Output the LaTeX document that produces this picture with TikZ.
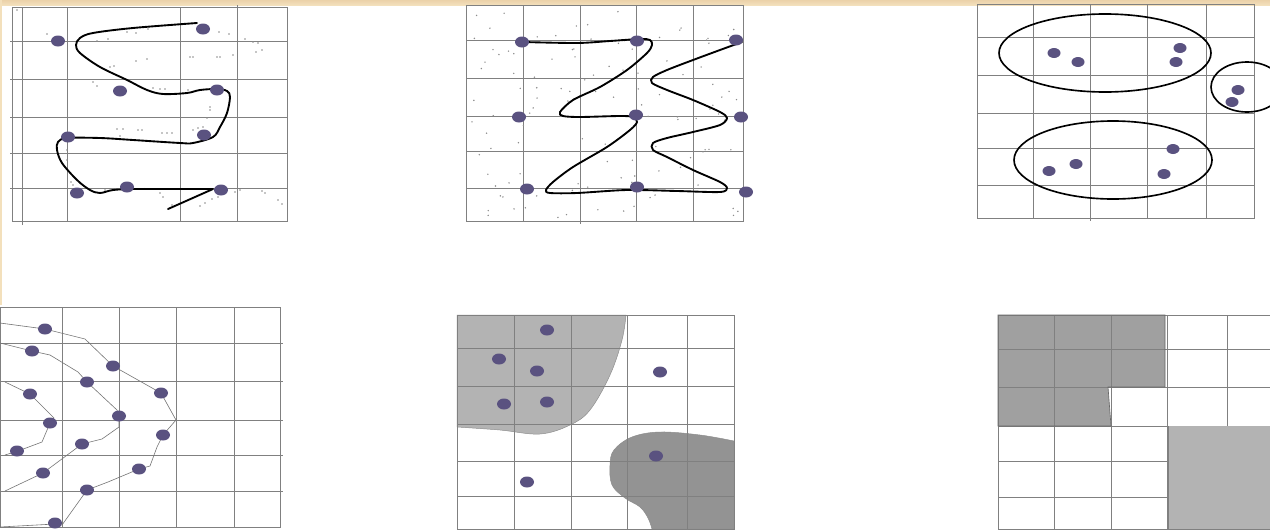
\documentclass[tikz,border=0pt]{standalone}
\usepackage{tikz}
\usetikzlibrary{positioning}
\definecolor{blobcol}{RGB}{90,82,128}
\definecolor{gridcol}{RGB}{128,128,128}
\definecolor{paper}{RGB}{243,224,188}
\definecolor{lightreg}{RGB}{179,179,179}
\definecolor{darkreg}{RGB}{147,147,147}
\definecolor{stepreg}{RGB}{160,160,160}

\begin{document}
\begin{tikzpicture}[
  x=0.03cm, y=-0.03cm,
  gridline/.style={draw=gridcol, line width=0.55pt},
  blob/.style={fill=blobcol},
  speck/.style={fill=black!45},
  sweep/.style={draw=black, line width=1.6pt, line join=round, line cap=round},
  cluster/.style={draw=black, line width=1.4pt},
  contour/.style={draw=black!55, line width=0.5pt},
  region/.style={draw=black!45, line width=0.4pt},
]
\clip (0,0) rectangle (1270,530);
\fill[white] (0,0) rectangle (1270,530);

% parchment edge
\shade[top color=paper!85!brown, bottom color=paper] (0,0) rectangle (1270,5);
\fill[paper] (0,0) rectangle (2,305);

% Panel 1: serpentine sweep
\draw[gridline] (12,7) rectangle (287,221);
\foreach \x in {67,180} \draw[gridline] (\x,7) -- (\x,221);
\draw[gridline] (22,7) -- (22,225);
\draw[gridline] (237,5) -- (237,221);
\foreach \y in {41,79,117,153,188} \draw[gridline] (10,\y) -- (287,\y);
\foreach \p in {(17,10),(47,34),(97,41),(108,39),(127,32),(136,33),(148,29),(219,32),(229,34),
  (245,39),(253,42),(258,43),(256,52),(262,50),(190,57),(193,57),(217,57),(220,57),(233,55),
  (110,67),(114,66),(136,61),(147,59),(93,82),(97,86),(153,88),(160,89),(165,89),(188,90),
  (210,107),(210,110),(207,118),(203,127),(198,128),(193,130),(117,129),(123,129),(138,130),
  (142,130),(162,133),(167,133),(172,133),(120,136),(67,150),(67,160),(71,182),(73,185),
  (105,190),(160,193),(163,197),(172,205),(200,206),(205,203),(212,199),(218,197),(235,192),
  (240,190),(262,191),(265,193),(278,200),(282,204)}
  \fill[speck] \p circle (0.8);
\draw[sweep] plot[smooth, tension=0.55] coordinates {(197,23) (133,28) (93,33) (80,38) (76,45)
  (80,53) (100,67) (127,80) (147,90) (163,94) (187,93) (200,90) (217,89) (227,91) (230,97)
  (227,113) (220,127) (213,137) (193,143) (180,143) (133,140) (100,138) (67,138) (58,142)
  (57,150) (62,163) (77,180) (90,190) (100,193) (113,190) (133,189) (167,189) (213,189)}
  -- (168,209);
\foreach \p in {(58,41),(203,29),(120,91),(217,90),(68,137),(204,135),(77,193),(127,187),(221,190)}
  \fill[blob] \p ellipse [x radius=7, y radius=5.5];

% Panel 2: zig-zag sweep
\draw[gridline] (466,5) rectangle (743,221);
\foreach \x in {523,636,693} \draw[gridline] (\x,5) -- (\x,221);
\draw[gridline] (580,5) -- (580,224);
\foreach \y in {40,78,116,151,188} \draw[gridline] (466,\y) -- (743,\y);
\pgfmathsetseed{42}
\foreach \i in {1,...,120} {
  \pgfmathsetmacro\sx{470+268*rnd}
  \pgfmathsetmacro\sy{8+210*rnd}
  \fill[speck] (\sx,\sy) circle (0.8);
}
\draw[sweep] plot[smooth, tension=0.5] coordinates {(523,42) (577,43) (610,41) (640,39) (650,40)
  (652,45) (647,53) (627,70) (600,87) (573,100) (560,112) (563,116) (580,117) (620,116)
  (633,117) (637,122) (630,130) (607,147) (573,167) (553,182) (546,190) (550,193) (577,193)
  (627,190) (677,191) (720,192) (727,188) (720,182) (693,170) (667,157) (653,150) (653,143)
  (667,138) (693,132) (720,125) (727,118) (720,112) (693,100) (667,90) (652,83) (653,77)
  (667,70) (693,60) (720,50) (742,42)};
\foreach \p in {(522,42),(637,41),(736,40),(519,117),(636,115),(741,117),(527,189),(637,187),(746,192)}
  \fill[blob] \p ellipse [x radius=7, y radius=5.5];

% Panel 3: clusters
\draw[gridline] (977,4) rectangle (1254,218);
\foreach \x in {1033,1147,1206} \draw[gridline] (\x,4) -- (\x,218);
\draw[gridline] (1090,4) -- (1090,221);
\foreach \y in {37,75,113,148,185} \draw[gridline] (977,\y) -- (1254,\y);
\draw[cluster] (1105,53) ellipse [x radius=106, y radius=39];
\draw[cluster] (1113,160) ellipse [x radius=99, y radius=39];
\draw[cluster] (1247,87) ellipse [x radius=36, y radius=25];
\foreach \p in {(1054,53),(1078,62),(1180,48),(1176,62),(1238,90),(1232,102),
  (1049,171),(1076,164),(1173,149),(1164,174)}
  \fill[blob] \p ellipse [x radius=6.5, y radius=5];

% Panel 4: density contours
\draw[gridline] (0,307) rectangle (280,527);
\foreach \x in {62,119,176,234} \draw[gridline] (\x,307) -- (\x,527);
\foreach \y in {343,381,420,455,491} \draw[gridline] (0,\y) -- (283,\y);
\draw[contour] (0,323) -- (45,329) -- (85,339) -- (113,366) -- (161,393) -- (176,420)
  -- (163,435) -- (157,447) -- (150,466) -- (139,469) -- (108,482) -- (87,490) -- (62,525)
  -- (55,524) -- (0,527);
\draw[contour] (0,343) -- (32,351) -- (50,355) -- (78,372) -- (87,382) -- (117,410)
  -- (119,416) -- (119,427) -- (102,439) -- (82,444) -- (43,473) -- (5,491);
\draw[contour] (5,382) -- (30,394) -- (54,418) -- (50,423) -- (42,442) -- (18,451) -- (5,455);
\foreach \p in {(45,329),(32,351),(113,366),(87,382),(30,394),(161,393),(119,416),(50,423),
  (163,435),(82,444),(17,451),(139,469),(43,473),(87,490),(55,523)}
  \fill[blob] \p ellipse [x radius=7, y radius=5.5];

% Panel 5: dense regions
\filldraw[region, fill=lightreg] (457,315) -- (626,315) -- plot[smooth, tension=0.6]
  coordinates {(626,315) (622,340) (610,375) (590,410) (570,425) (540,434) (500,430) (457,427)}
  -- cycle;
\filldraw[region, fill=darkreg] plot[smooth, tension=0.6] coordinates {(734,441) (700,435)
  (660,432) (632,437) (614,450) (610,465) (612,485) (625,498) (640,507) (648,518) (652,529)}
  -- (734,529) -- cycle;
\draw[gridline] (457,315) rectangle (734,529);
\foreach \x in {514,571,627,687} \draw[gridline] (\x,315) -- (\x,529);
\foreach \y in {348,386,424,461,496} \draw[gridline] (457,\y) -- (734,\y);
\foreach \p in {(547,330),(499,359),(537,371),(504,404),(547,402),(660,372),(656,456),(527,482)}
  \fill[blob] \p ellipse [x radius=7, y radius=5.5];

% Panel 6: grid cells
\fill[stepreg] (998,315) -- (1165,315) -- (1165,387) -- (1108,387) -- (1111,426)
  -- (998,426) -- cycle;
\draw[gridline] (998,315) rectangle (1280,529);
\foreach \x in {1054,1111,1167,1227} \draw[gridline] (\x,315) -- (\x,529);
\foreach \y in {349,387,426,461,497} \draw[gridline] (998,\y) -- (1280,\y);
\draw[gridline, black!60] (998,315) -- (1165,315) -- (1165,387) -- (1108,387) -- (1111,426)
  -- (998,426) -- cycle;
\fill[lightreg] (1168,426) rectangle (1275,529);
\draw[gridline] (1168,426) -- (1168,529);

\end{tikzpicture}
\end{document}
